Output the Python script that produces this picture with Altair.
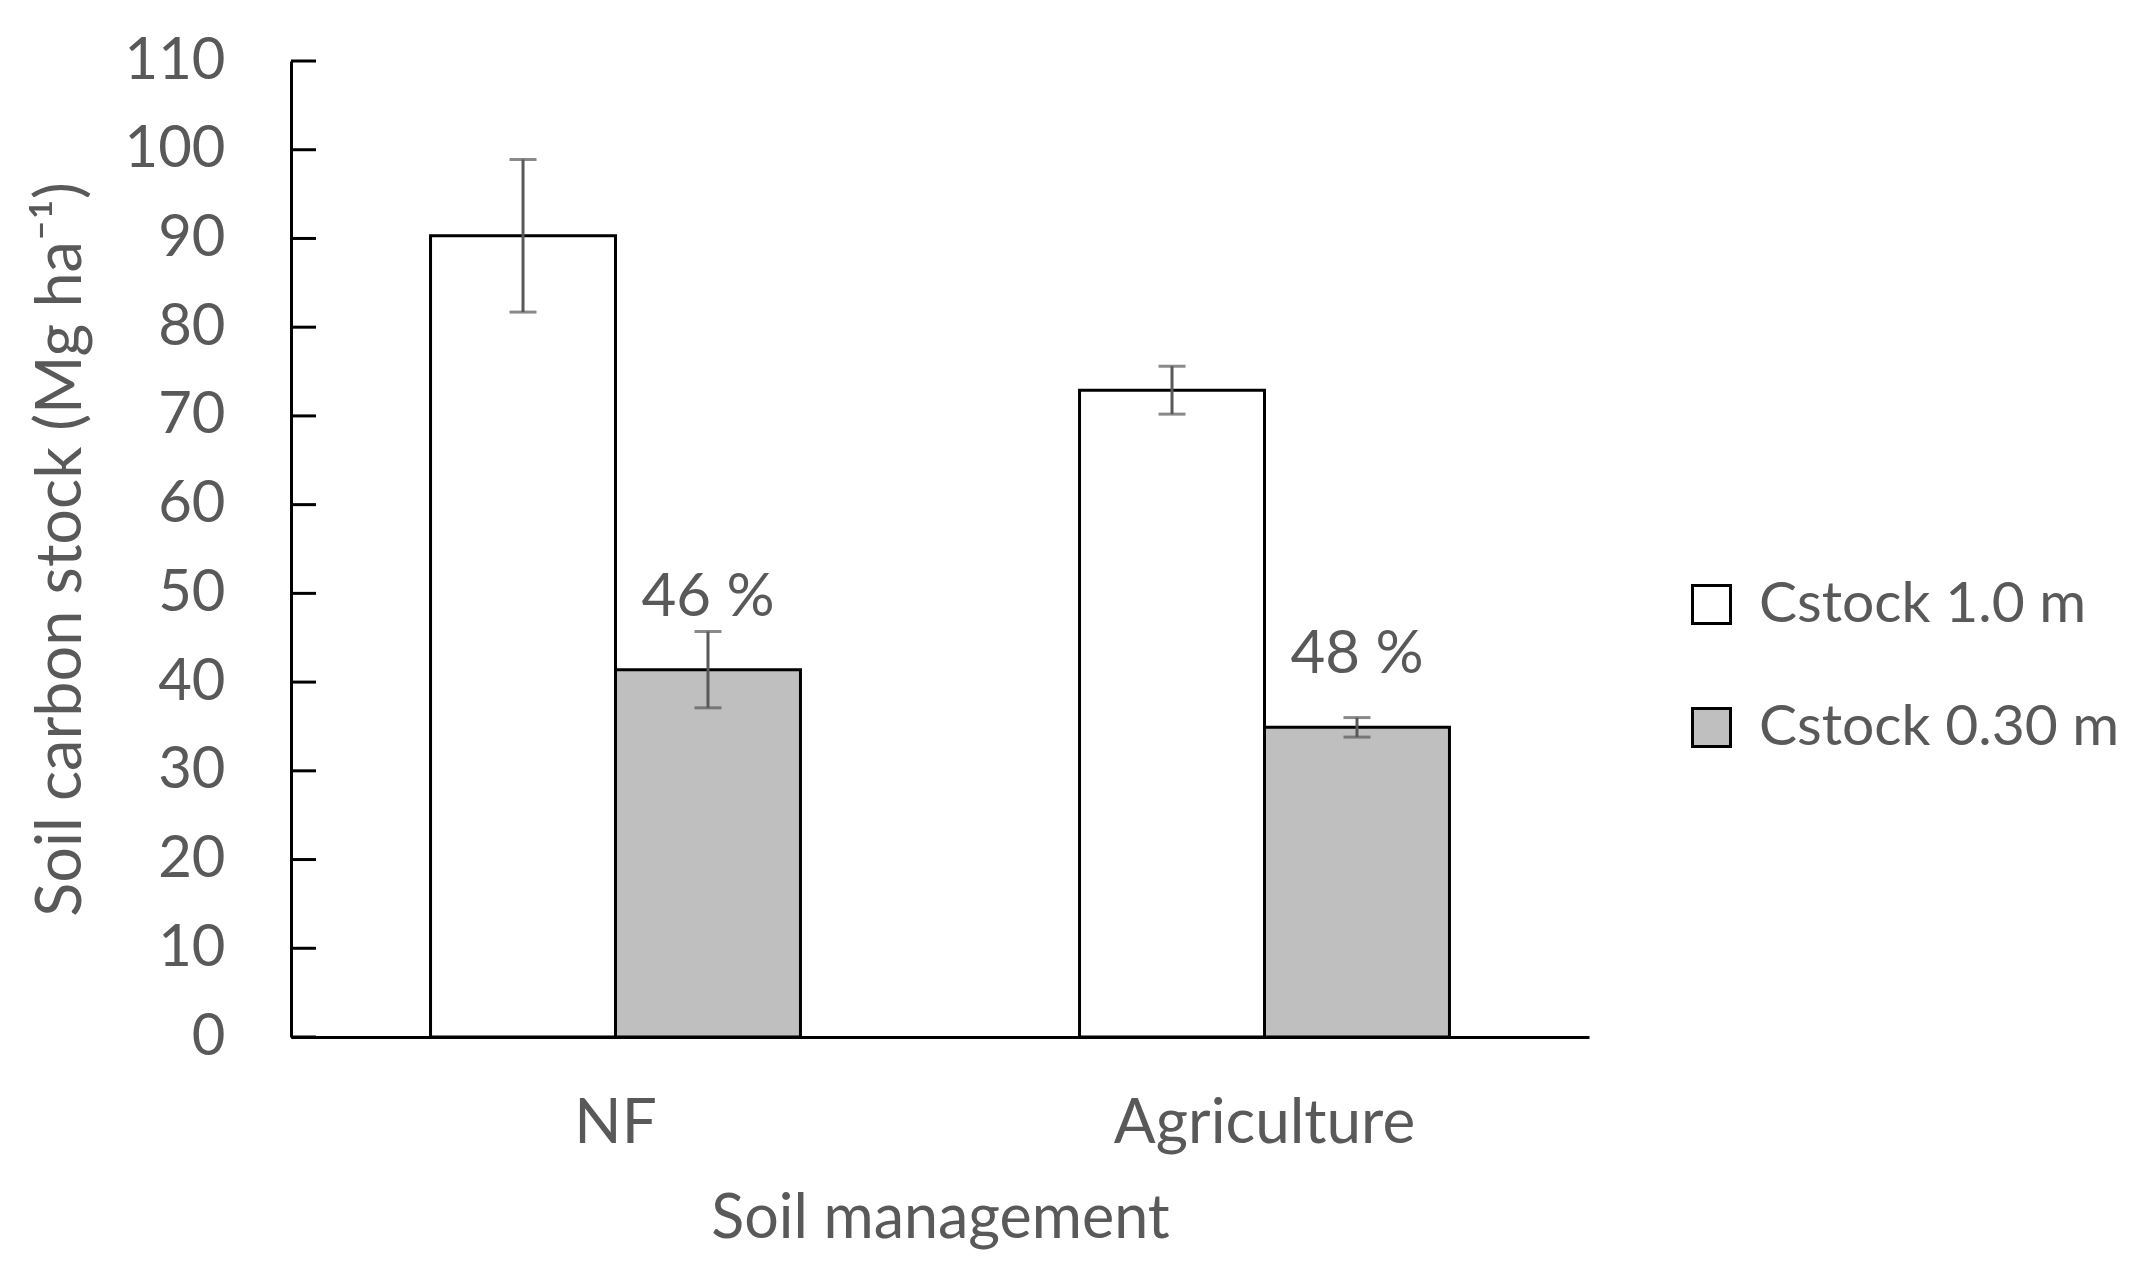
import altair as alt
import pandas as pd

FONT = "Lato"
TEXT_COLOR = "#595959"

categories = ["NF", "Agriculture"]
series = ["Cstock 1.0 m", "Cstock 0.30 m"]
series_colors = ["#ffffff", "#bfbfbf"]
cstock_1m = [90.3, 72.9]
cstock_1m_err = [8.6, 2.7]
cstock_030m = [41.4, 34.9]
cstock_030m_err = [4.3, 1.1]
pct_labels = ["46 %", "48 %"]
pct_label_y = [49.5, 43.1]
y_ticks = [0, 10, 20, 30, 40, 50, 60, 70, 80, 90, 100, 110]

rows = []
for i, c in enumerate(categories):
    rows.append(dict(cat=c, series=series[0], value=cstock_1m[i], err=cstock_1m_err[i], label="", ly=None))
    rows.append(dict(cat=c, series=series[1], value=cstock_030m[i], err=cstock_030m_err[i],
                     label=pct_labels[i], ly=pct_label_y[i]))
df = pd.DataFrame(rows)
df["lo"] = df["value"] - df["err"]
df["hi"] = df["value"] + df["err"]
tick_df = pd.DataFrame({"t": y_ticks})

x_enc = alt.X("cat:N", sort=categories,
              scale=alt.Scale(paddingInner=0.43, paddingOuter=0.215),
              axis=alt.Axis(title="Soil management", labelAngle=0, labelBaseline="middle",
                            labelPadding=86, tickSize=0, ticks=False, labelLimit=0,
                            labelFontSize=62, titleFontSize=61,
                            titleY=182, titleBaseline="middle"))
xo_enc = alt.XOffset("series:N", sort=series, scale=alt.Scale(paddingInner=0, paddingOuter=0))
y_scale = alt.Scale(domain=[0, 110], nice=False)

bars = alt.Chart(df).mark_bar(stroke="black", strokeWidth=3).encode(
    x=x_enc,
    xOffset=xo_enc,
    y=alt.Y("value:Q", scale=y_scale,
            axis=alt.Axis(values=y_ticks, title="Soil carbon stock (Mg ha⁻¹)", grid=False,
                          ticks=False, tickSize=0, labelPadding=66, labelLimit=0,
                          labelFontSize=58, titleFontSize=63,
                          titleX=-230, titleY=488, titleAlign="center", titleBaseline="middle")),
    color=alt.Color("series:N", sort=series,
                    scale=alt.Scale(domain=series, range=series_colors),
                    legend=alt.Legend(title=None, orient="none", legendX=1392, legendY=515,
                                      symbolType="square", symbolSize=1444,
                                      symbolStrokeColor="black", symbolStrokeWidth=3,
                                      labelFont=FONT, labelFontSize=57, labelColor=TEXT_COLOR,
                                      labelOffset=19, rowPadding=65, labelLimit=0)),
)

err_rule = alt.Chart(df).mark_rule(color=TEXT_COLOR, strokeWidth=3).encode(
    x=alt.X("cat:N", sort=categories), xOffset=alt.XOffset("series:N", sort=series),
    y=alt.Y("lo:Q"), y2="hi:Q")
cap_hi = alt.Chart(df).mark_tick(color=TEXT_COLOR, thickness=3, size=27).encode(
    x=alt.X("cat:N", sort=categories), xOffset=alt.XOffset("series:N", sort=series),
    y=alt.Y("hi:Q"))
cap_lo = alt.Chart(df).mark_tick(color=TEXT_COLOR, thickness=3, size=27).encode(
    x=alt.X("cat:N", sort=categories), xOffset=alt.XOffset("series:N", sort=series),
    y=alt.Y("lo:Q"))

pct = alt.Chart(df).transform_filter("datum.label != ''").mark_text(
    font=FONT, fontSize=60, color=TEXT_COLOR, baseline="middle").encode(
    x=alt.X("cat:N", sort=categories), xOffset=alt.XOffset("series:N", sort=series),
    y=alt.Y("ly:Q"), text="label:N")

yticks = alt.Chart(tick_df).mark_rule(color="black", strokeWidth=3).encode(
    y=alt.Y("t:Q"), x=alt.value(0), x2=alt.value(25))

chart = alt.layer(bars, err_rule, cap_hi, cap_lo, pct, yticks).properties(
    width=1298, height=976,
    autosize=alt.AutoSizeParams(type="none"),
    padding={"left": 283, "top": 53, "right": 540, "bottom": 218},
).configure_view(strokeWidth=0).configure_axis(
    domainColor="black", domainWidth=3, labelFont=FONT, titleFont=FONT,
    labelColor=TEXT_COLOR, titleColor=TEXT_COLOR,
    titleFontWeight="normal", grid=False,
)

chart.save("out.html", embed_options={"renderer": "svg", "actions": False})
